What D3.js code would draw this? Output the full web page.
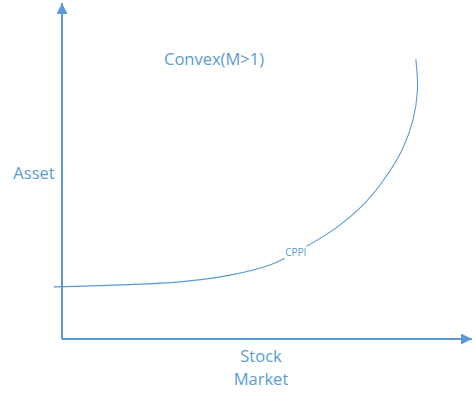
<!DOCTYPE html>
<html><head><meta charset="utf-8">
<script src="https://cdn.jsdelivr.net/npm/d3@7"></script>
<style>body{margin:0;background:#fff}svg{display:block}text{font-family:"Open Sans","Noto Sans",sans-serif;fill:#5B9BD5}</style>
</head><body>
<script>
// Curve data (stock market level vs asset value)
const stockValues = [-2, 14.2, 28.8, 41, 50.7, 59.8, 67.1, 73.9, 79.3, 83.2, 85.6, 86.7, 86.3];
const assetValues = [15.5, 16.1, 17, 19, 22, 27.7, 33.3, 40.5, 48.8, 56.9, 65.2, 74.1, 83.3];
const title = "Convex(M>1)";
const yLabel = "Asset";
const xLabelLines = ["Stock", "Market"];
const curveLabel = "CPPI";
const curveLabelX = 57;   // stock value where the CPPI label sits
const curveLabelY = 25.6; // asset value where the CPPI label sits

const W = 476, H = 402, color = "#5B9BD5";
const x = d3.scaleLinear().domain([0, 100]).range([62, 472]);
const y = d3.scaleLinear().domain([0, 100]).range([339, 3]);

const svg = d3.select("body").append("svg").attr("width", W).attr("height", H);
const defs = svg.append("defs");
defs.append("marker").attr("id", "arr").attr("viewBox", "0 0 10 10")
  .attr("refX", 10).attr("refY", 5).attr("markerWidth", 12).attr("markerHeight", 11)
  .attr("markerUnits", "userSpaceOnUse").attr("orient", "auto")
  .append("path").attr("d", "M0,0L10,5L0,10Z").attr("fill", color);

// axes
svg.append("line").attr("x1", x(0)).attr("y1", y(0)).attr("x2", x(100)).attr("y2", y(0))
  .attr("stroke", color).attr("stroke-width", 2).attr("marker-end", "url(#arr)");
svg.append("line").attr("x1", x(0)).attr("y1", y(0)).attr("x2", x(0)).attr("y2", y(100))
  .attr("stroke", color).attr("stroke-width", 2).attr("marker-end", "url(#arr)");

// curve
const pts = stockValues.map((s, i) => [s, assetValues[i]]);
const line = d3.line().x(d => x(d[0])).y(d => y(d[1])).curve(d3.curveCatmullRom.alpha(0.5));
svg.append("path").attr("d", line(pts)).attr("fill", "none").attr("stroke", color).attr("stroke-width", 1.1);

// CPPI label with white background
const lx = x(curveLabelX), ly = y(curveLabelY);
svg.append("rect").attr("x", lx - 11).attr("y", ly - 7).attr("width", 22).attr("height", 13).attr("fill", "#fff");
svg.append("text").attr("x", lx).attr("y", ly + 3.5).attr("text-anchor", "middle")
  .style("font-size", "10px").text(curveLabel);

svg.append("text").attr("x", 214).attr("y", 65).attr("text-anchor", "middle").style("font-size", "16.5px").text(title);
svg.append("text").attr("x", 34).attr("y", 179).attr("text-anchor", "middle").style("font-size", "16.5px").text(yLabel);
svg.append("text").attr("text-anchor", "middle").style("font-size", "16.5px")
  .selectAll("tspan").data(xLabelLines).join("tspan")
  .attr("x", 261).attr("y", (d, i) => 362 + i * 23).text(d => d);
</script>
</body></html>
